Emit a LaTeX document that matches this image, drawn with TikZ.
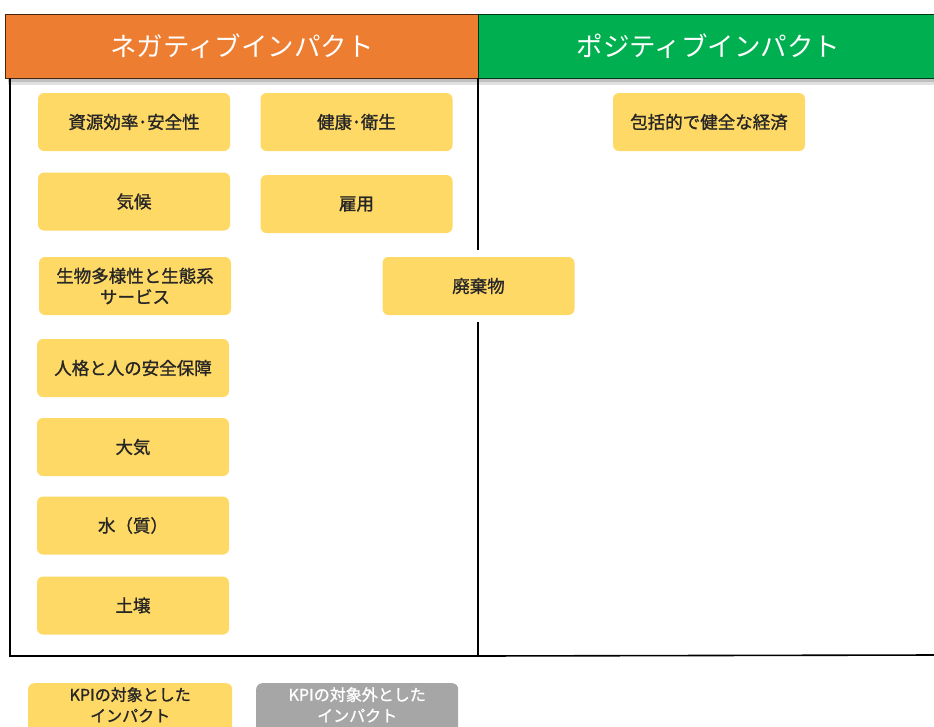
\documentclass[tikz,border=0pt]{standalone}
\usepackage{fontspec}
\setmainfont{Noto Sans CJK JP}
\newfontfamily\jp{Noto Sans CJK JP}
\newfontfamily\jpb[FakeBold=1.2]{Noto Sans CJK JP}
\definecolor{hdorange}{HTML}{ED7D31}
\definecolor{hdgreen}{HTML}{00B050}
\definecolor{kpiyellow}{HTML}{FFD966}
\definecolor{kpigray}{HTML}{A6A6A6}
\definecolor{txtdark}{HTML}{262626}
\tikzset{
  ibox/.style={fill=kpiyellow, rounded corners=6pt, minimum width=192pt, minimum height=58pt,
    inner sep=0pt, align=center, text=txtdark, font=\jpb\fontsize{17.5}{21}\selectfont},
  gbox/.style={ibox, fill=kpigray, text=white},
  legtext/.style={inner sep=0pt, align=center, font=\jpb\fontsize{16}{21}\selectfont},
  hdr/.style={draw=black!70!hdorange, line width=0.6pt, minimum height=64pt, inner sep=0pt,
    text=white, font=\jp\fontsize{26.5}{30}\selectfont},
  frame/.style={line width=1.6pt, draw=black}
}
\begin{document}
\begin{tikzpicture}[x=1pt,y=-1pt]
\useasboundingbox (0,0) rectangle (934,726);
\clip (0,0) rectangle (934,726);
% shadow under header
\fill[black!25] (8,78) rectangle (934,82);
\fill[black!12] (8,82) rectangle (934,85);
% headers
\node[hdr, fill=hdorange, minimum width=473pt, anchor=north west] (hn) at (5,14) {ネガティブインパクト};
\node[hdr, fill=hdgreen, draw=black!70!hdgreen, minimum width=460pt, anchor=north west] (hp) at (478,14) {ポジティブインパクト};
% frames
\coordinate (ltl) at (10,78);
\coordinate (lbl) at (10,656);
\coordinate (lbr) at (478,656);
\coordinate (ttop) at (478,78);
\coordinate (rbr) at (934,655);
\draw[frame] (ltl) -- (lbl) -- (lbr);
\draw[frame] (lbr) -- (rbr);
% boxes
\node[ibox] (b1) at (134,122) {資源効率･安全性};
\node[ibox] (b2) at (356.5,122) {健康･衛生};
\node[ibox] (b3) at (134,201.5) {気候};
\node[ibox] (b4) at (356.5,204) {雇用};
\node[ibox] (b5) at (135,286) {生物多様性と生態系\\サービス};
\node[ibox] (b6) at (478.5,286) {廃棄物};
\node[ibox] (b7) at (133,368) {人格と人の安全保障};
\node[ibox] (b8) at (133,447) {大気};
\node[ibox] (b9) at (133,525.5) {水（質）};
\node[ibox] (b10) at (133,605.5) {土壌};
\node[ibox] (b11) at (709,122) {包括的で健全な経済};
% divider interrupted by b6
\draw[frame] (ttop) -- (478,250);
\draw[frame] (478,322) -- (lbr);
% legend
\node[ibox, minimum width=204pt, minimum height=62pt, anchor=north west] (l1) at (28,683) {};
\node[gbox, minimum width=202pt, minimum height=62pt, anchor=north west] (l2) at (256,683) {};
\node[legtext, text=txtdark, anchor=north] (l1t) at ([yshift=-4pt]l1.north) {KPIの対象とした\\インパクト};
\node[legtext, text=white, anchor=north] (l2t) at ([yshift=-4pt]l2.north) {KPIの対象外とした\\インパクト};
\end{tikzpicture}
\end{document}
